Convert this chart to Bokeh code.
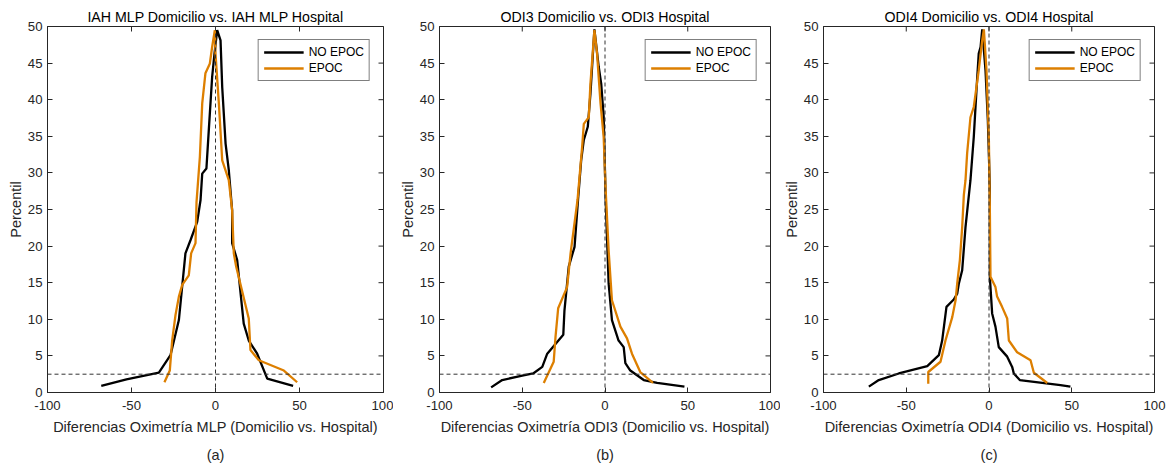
import math

from bokeh.plotting import figure
from bokeh.layouts import row
from bokeh.models import Span, Legend, LegendItem, Title, FixedTicker, Range1d
from bokeh.embed import file_html
from bokeh.resources import INLINE

# Mountain (folded cumulative) plots of home vs. hospital oximetry differences

# (a) IAH MLP
mlp_no_epoc_x = [-68, -53, -33.7, -26.8, -21.8, -17.9, -14.9, -10.9, -8.9, -7.9, -5.4, -4.0, -2.0, -0.6,
                 1.0, 3.0, 4.0, 6.0, 7.9, 9.9, 9.9, 12.9, 16.8, 19.8, 24.8, 30.8, 46.2]
mlp_no_epoc_y = [0.9, 1.8, 2.7, 5.1, 9.9, 19.0, 20.8, 23.3, 26.3, 29.9, 30.6, 35.8, 43.1, 46.3,
                 49.5, 48.1, 41.7, 34.0, 30.4, 24.9, 20.4, 18.1, 9.4, 7.1, 5.3, 1.9, 0.9]
mlp_epoc_x = [-30.4, -27.2, -25.8, -23.8, -21.8, -19.8, -15.9, -14.5, -11.9, -11.3, -9.3, -7.9, -6.0,
              -3.4, -2.0, -0.4, 0.0, 2.0, 4.0, 7.9, 9.9, 10.9, 12.3, 19.8, 20.8, 25.8, 40.7, 48.6]
mlp_epoc_y = [1.4, 3.0, 7.1, 10.6, 13.1, 14.7, 16.0, 19.0, 20.4, 26.0, 32.2, 39.5, 43.6,
              44.9, 47.2, 49.5, 46.3, 39.5, 31.7, 29.0, 24.9, 19.0, 17.2, 10.1, 5.8, 4.4, 3.0, 1.4]

# (b) ODI3
odi3_no_epoc_x = [-68.8, -62.1, -50.0, -43.4, -37.9, -34.9, -25.2, -24.5, -21.9, -18.4, -16.3, -14.4,
                  -12.8, -10.4, -8.8, -6.4, -3.8, -2.3, -0.8, 0.4, 2.2, 4.2, 8.2, 11.3, 12.3, 15.3,
                  23.4, 31.5, 48.0]
odi3_no_epoc_y = [0.7, 1.7, 2.3, 2.6, 3.5, 5.3, 7.9, 11.2, 17.2, 19.9, 26.3, 31.7,
                  34.5, 36.3, 40.8, 49.6, 44.5, 42.2, 37.7, 26.3, 14.9, 9.9, 7.1, 6.2, 4.0, 3.0,
                  1.7, 1.3, 0.8]
odi3_epoc_x = [-37.0, -31.0, -29.9, -28.3, -22.9, -20.8, -16.6, -13.8, -12.8, -9.8, -8.8, -6.4,
               -4.8, -2.7, -0.8, 0.3, 2.2, 4.2, 9.3, 13.3, 16.3, 21.3, 29.0]
odi3_epoc_y = [1.3, 4.2, 7.6, 11.5, 14.4, 19.0, 26.3, 33.6, 36.7, 37.6, 42.2, 49.5,
               46.3, 39.5, 34.9, 28.1, 19.4, 12.6, 9.0, 7.4, 5.3, 2.8, 1.3]

# (c) ODI4
odi4_no_epoc_x = [-72.6, -66.6, -54.5, -37.3, -30.3, -28.3, -25.7, -21.3, -19.2, -18.2, -16.2, -14.2,
                  -12.7, -11.2, -9.2, -7.2, -6.2, -5.1, -4.1, -2.1, -0.7, 0.5, 0.5, 1.9, 3.9, 5.9,
                  11.0, 14.0, 15.0, 18.6, 43.2, 49.2]
odi4_no_epoc_y = [0.8, 1.7, 2.6, 3.6, 5.1, 7.1, 11.7, 12.7, 13.5, 14.9, 16.7, 22.6,
                  25.8, 29.0, 34.9, 42.7, 46.3, 47.2, 49.6, 44.0, 37.2, 28.1, 15.8, 10.8, 9.0, 6.2,
                  4.9, 3.5, 2.6, 1.7, 1.0, 0.8]
odi4_epoc_x = [-36.7, -36.7, -29.3, -26.3, -22.2, -20.2, -19.2, -17.6, -16.2, -15.2, -14.2, -13.2,
               -11.2, -9.2, -6.2, -4.1, -3.1, -1.5, -0.1, 0.5, 0.9, 3.9, 4.9, 7.9, 11.0, 12.0,
               17.0, 25.1, 27.1, 35.2]
odi4_epoc_y = [1.2, 2.8, 4.2, 7.1, 10.3, 12.6, 14.9, 18.1, 22.6, 27.0, 29.0, 32.7,
               37.6, 39.0, 44.0, 48.1, 49.6, 44.0, 34.9, 25.4, 15.8, 14.4, 13.1, 11.7, 10.1, 7.1,
               5.5, 4.4, 2.7, 1.3]

x_ticks = [-100, -50, 0, 50, 100]
x_tick_labels = ["-100", "-50", "0", "50", "100"]
y_ticks = [0, 5, 10, 15, 20, 25, 30, 35, 40, 45, 50]
series_names = ["NO EPOC", "EPOC"]
series_colors = ["#000000", "#DD7F00"]
ref_percentile = 2.5
ref_difference = 0
x_lo, x_hi = -100, 100
y_lo, y_hi = 0, 50

FONT = "Liberation Sans"
AX = "#262626"
LABEL_FS = "14.5px"
TITLE_FS = "14.2px"
TICK_FS = "13.2px"
LEGEND_FS = "12px"


def panel(title, xlabel, tag, xs, ys, frame_w, left, right):
    p = figure(width=left + frame_w + right, height=467,
               frame_width=frame_w, frame_height=366,
               x_range=Range1d(x_lo, x_hi), y_range=Range1d(y_lo, y_hi),
               min_border_left=left, min_border_right=right,
               min_border_top=26, min_border_bottom=75,
               output_backend="svg", toolbar_location=None,
               background_fill_color="white", border_fill_color="white")
    p.grid.visible = False
    p.outline_line_color = AX
    p.outline_line_width = 1

    p.title.text = title
    p.title.text_font = FONT
    p.title.text_font_size = TITLE_FS
    p.title.text_font_style = "normal"
    p.title.text_color = "black"
    p.title.align = "center"
    p.title.standoff = 3

    p.xaxis.ticker = FixedTicker(ticks=x_ticks)
    p.xaxis.major_label_overrides = dict(zip(x_ticks, x_tick_labels))
    p.yaxis.ticker = FixedTicker(ticks=y_ticks)
    p.xaxis.axis_label = xlabel
    p.yaxis.axis_label = "Percentil"
    for ax in (p.xaxis[0], p.yaxis[0]):
        ax.axis_line_color = AX
        ax.major_tick_line_color = AX
        ax.major_tick_in = 5
        ax.major_tick_out = 0
        ax.minor_tick_in = 0
        ax.minor_tick_out = 0
        ax.major_label_text_font = FONT
        ax.major_label_text_color = AX
        ax.major_label_text_font_size = TICK_FS
        ax.axis_label_text_font = FONT
        ax.axis_label_text_color = AX
        ax.axis_label_text_font_style = "normal"
        ax.axis_label_text_font_size = LABEL_FS
    p.xaxis.major_label_standoff = 8
    p.xaxis.axis_label_standoff = 6
    p.yaxis.major_label_standoff = 5
    p.yaxis.axis_label_standoff = 1

    # inward box ticks along the top and right edges (the outer half is clipped by the frame)
    p.scatter(x_ticks, [y_hi] * len(x_ticks), marker="dash", angle=math.pi / 2, size=10,
              line_color=AX, line_width=1)
    p.scatter([x_hi] * len(y_ticks), y_ticks, marker="dash", size=10,
              line_color=AX, line_width=1)

    p.add_layout(Span(location=ref_difference, dimension="height", line_color="#333333",
                      line_width=1, line_dash="4 3"))
    p.add_layout(Span(location=ref_percentile, dimension="width", line_color="#333333",
                      line_width=1, line_dash="4 3"))

    items = []
    for name, color, x, y in zip(series_names, series_colors, xs, ys):
        r = p.line(x, y, line_color=color, line_width=2.3)
        items.append(LegendItem(label=name, renderers=[r]))

    leg = Legend(items=items, location="top_right")
    leg.margin = 13
    leg.padding = 5
    leg.spacing = 2
    leg.glyph_width = 40
    leg.glyph_height = 14
    leg.label_height = 14
    leg.label_standoff = 5
    leg.label_text_font = FONT
    leg.label_text_font_size = LEGEND_FS
    leg.label_text_color = "black"
    leg.border_line_color = "black"
    leg.border_line_width = 1
    leg.background_fill_color = "white"
    leg.background_fill_alpha = 1
    p.add_layout(leg)

    sub = Title(text=tag, align="center", text_font=FONT, text_font_size=LABEL_FS,
                text_font_style="normal", text_color=AX, standoff=15)
    p.add_layout(sub, "below")
    return p


pa = panel("IAH MLP Domicilio vs. IAH MLP Hospital",
           "Diferencias Oximetría MLP (Domicilio vs. Hospital)", "(a)",
           [mlp_no_epoc_x, mlp_epoc_x], [mlp_no_epoc_y, mlp_epoc_y], 336, 47, 10)
pb = panel("ODI3 Domicilio vs. ODI3 Hospital",
           "Diferencias Oximetría ODI3 (Domicilio vs. Hospital)", "(b)",
           [odi3_no_epoc_x, odi3_epoc_x], [odi3_no_epoc_y, odi3_epoc_y], 331, 46, 10)
pc = panel("ODI4 Domicilio vs. ODI4 Hospital",
           "Diferencias Oximetría ODI4 (Domicilio vs. Hospital)", "(c)",
           [odi4_no_epoc_x, odi4_epoc_x], [odi4_no_epoc_y, odi4_epoc_y], 331, 43, 15)

layout = row(pa, pb, pc, spacing=0)
open("out.html", "w").write(file_html(layout, INLINE))
